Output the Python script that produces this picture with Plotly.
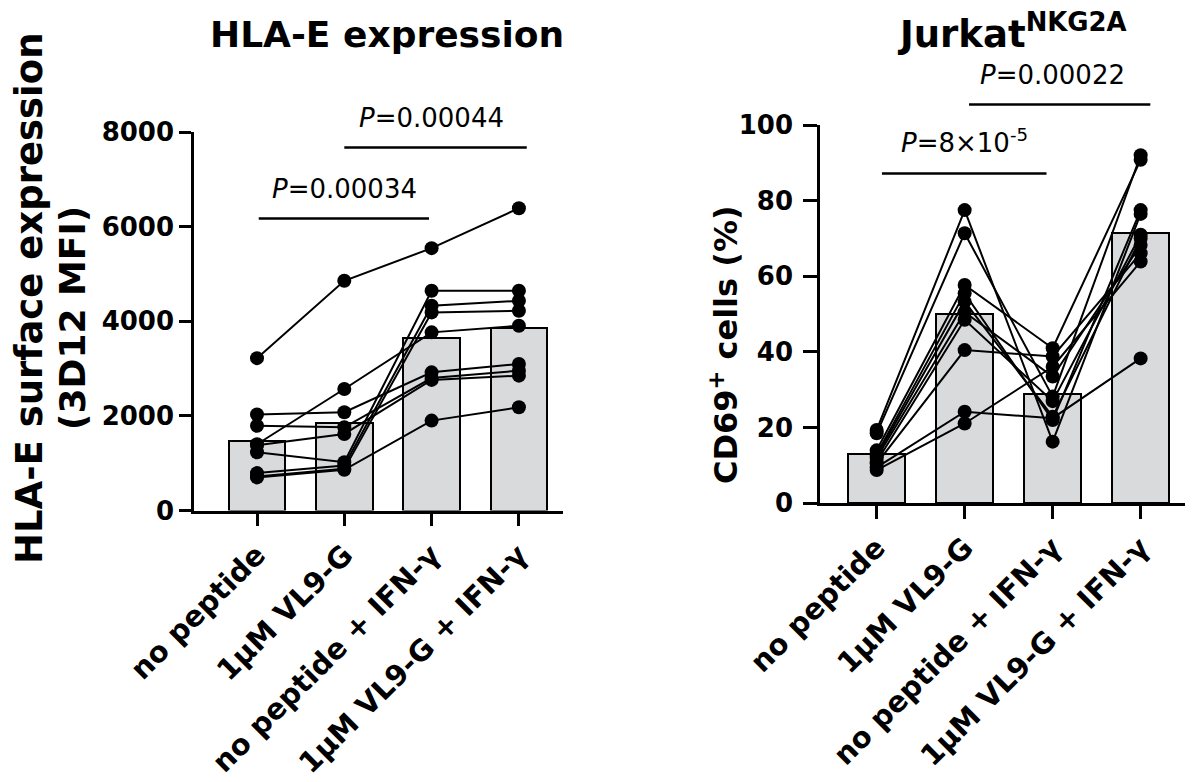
import numpy as np
import plotly.graph_objects as go

categories = ["no peptide", "1µM VL9-G", "no peptide + IFN-γ", "1µM VL9-G + IFN-γ"]

# Left panel: HLA-E surface expression (3D12 MFI); index i = same donor across conditions
hla_no_peptide = [3220, 1400, 2030, 1790, 1380, 1230, 790, 720, 700]
hla_vl9g = [4855, 2568, 2076, 1759, 1618, 1020, 950, 880, 860]
hla_ifng = [5545, 3765, 2920, 2800, 2760, 4644, 4327, 4187, 1900]
hla_vl9g_ifng = [6389, 3905, 3096, 2955, 2850, 4644, 4433, 4222, 2181]

# Right panel: Jurkat-NKG2A CD69+ cells (%)
cd69_no_peptide = [19.4, 18.5, 14.0, 13.0, 12.5, 12.0, 11.0, 10.5, 9.5, 8.8]
cd69_vl9g = [77.5, 71.4, 57.7, 55.5, 53.3, 50.5, 48.5, 40.5, 24.2, 21.1]
cd69_ifng = [16.3, 28.2, 41.0, 22.0, 22.9, 33.5, 27.0, 38.8, 22.5, 36.1]
cd69_vl9g_ifng = [76.5, 92.0, 90.8, 77.5, 70.0, 68.3, 71.0, 66.1, 38.3, 63.9]

left_y_ticks = [0, 2000, 4000, 6000, 8000]
right_y_ticks = [0, 20, 40, 60, 80, 100]

# (label, text category, bracket from, bracket to, bracket height in data units)
left_p = [("0.00034", 1, 0.02, 1.97, 6170), ("0.00044", 2, 1.0, 3.09, 7672)]
right_p = [("8×10<sup>-5</sup>", 1, 0.06, 1.93, 87.2), ("0.00022", 2, 1.05, 3.11, 105.4)]

FONT = "DejaVu Sans"
PFONT = "DejaVu Sans"
BAR_FILL = "rgb(217,218,220)"

W, H = 1200, 782
OFF = 8  # page body margin
fig = go.Figure()

panels = [
    ("x", "y", [hla_no_peptide, hla_vl9g, hla_ifng, hla_vl9g_ifng]),
    ("x2", "y2", [cd69_no_peptide, cd69_vl9g, cd69_ifng, cd69_vl9g_ifng]),
]

xpos = list(range(len(categories)))
for xa, ya, groups in panels:
    means = [float(np.mean(g)) for g in groups]
    fig.add_trace(go.Bar(
        x=xpos, y=means, xaxis=xa, yaxis=ya, width=0.65,
        marker=dict(color=BAR_FILL, line=dict(color="black", width=2)),
        showlegend=False, hoverinfo="skip"))
    n = len(groups[0])
    for i in range(n):
        fig.add_trace(go.Scatter(
            x=xpos, y=[g[i] for g in groups], xaxis=xa, yaxis=ya,
            mode="lines+markers",
            line=dict(color="black", width=2),
            marker=dict(color="black", size=14),
            showlegend=False, cliponaxis=False))

def px_to_paper_x(px):
    return (px - OFF) / W

def px_to_paper_y(py):
    return 1 - (py - OFF) / H

axis_common = dict(
    showline=True, linewidth=2.5, linecolor="black",
    ticks="outside", tickwidth=2.5, tickcolor="black",
    showgrid=False, zeroline=False, automargin=False,
)
xtickfont = dict(family=FONT, size=29, color="black", weight="bold")
ytickfont = dict(family=FONT, size=26, color="black", weight="bold")

fig.update_layout(
    width=W, height=H,
    margin=dict(l=0, r=0, t=0, b=0),
    paper_bgcolor="white", plot_bgcolor="white",
    bargap=0,
    xaxis=dict(domain=[px_to_paper_x(194), px_to_paper_x(563)], range=[-0.7216, 3.505],
               tickvals=xpos, ticktext=categories, tickangle=-45, tickfont=xtickfont,
               ticklen=13, anchor="y", **axis_common),
    yaxis=dict(domain=[px_to_paper_y(510.5), px_to_paper_y(132)], range=[0, 8000],
               tickvals=left_y_ticks, tickfont=ytickfont, ticklen=12, ticklabelstandoff=0,
               anchor="x", **axis_common),
    xaxis2=dict(domain=[px_to_paper_x(820), px_to_paper_x(1185)], range=[-0.644, 3.504],
                tickvals=xpos, ticktext=categories, tickangle=-45, tickfont=xtickfont,
                ticklen=13, anchor="y2", **axis_common),
    yaxis2=dict(domain=[px_to_paper_y(503.3), px_to_paper_y(125)], range=[0, 100],
                tickvals=right_y_ticks, tickfont=ytickfont, ticklen=14, ticklabelstandoff=5,
                anchor="x2", **axis_common),
)

shapes = []
annotations = []
for (xa, ya, pl, ymax) in [("x", "y", left_p, 8000), ("x2", "y2", right_p, 100)]:
    for txt, cx, c0, c1, yv in pl:
        shapes.append(dict(type="line", xref=xa, yref=ya + " domain",
                           x0=c0, x1=c1, y0=yv / ymax, y1=yv / ymax,
                           line=dict(color="black", width=2.5)))
        annotations.append(dict(text="<i>P</i>=" + txt, xref=xa, yref=ya + " domain",
                                x=cx, y=yv / ymax, yanchor="bottom",
                                xanchor="center", yshift=13, showarrow=False,
                                font=dict(family=PFONT, size=26, color="black")))

# Panel titles
annotations.append(dict(text="HLA-E expression", xref="paper", yref="paper",
                        x=px_to_paper_x(387), y=px_to_paper_y(34), xanchor="center",
                        yanchor="middle", showarrow=False,
                        font=dict(family=FONT, size=36, color="black", weight="bold")))
annotations.append(dict(text="Jurkat<sup>NKG2A</sup>", xref="paper", yref="paper",
                        x=px_to_paper_x(1012), y=px_to_paper_y(32), xanchor="center",
                        yanchor="middle", showarrow=False,
                        font=dict(family=FONT, size=37, color="black", weight="bold")))
# Y-axis titles
annotations.append(dict(text="HLA-E surface expression", xref="paper", yref="paper",
                        x=px_to_paper_x(29), y=px_to_paper_y(298), xanchor="center",
                        yanchor="middle", textangle=-90, showarrow=False,
                        font=dict(family=FONT, size=37, color="black", weight="bold")))
annotations.append(dict(text="(3D12 MFI)", xref="paper", yref="paper",
                        x=px_to_paper_x(72), y=px_to_paper_y(318), xanchor="center",
                        yanchor="middle", textangle=-90, showarrow=False,
                        font=dict(family=FONT, size=36, color="black", weight="bold")))
annotations.append(dict(text="CD69<sup>+</sup> cells (%)", xref="paper", yref="paper",
                        x=px_to_paper_x(724), y=px_to_paper_y(345), xanchor="center",
                        yanchor="middle", textangle=-90, showarrow=False,
                        font=dict(family=FONT, size=32, color="black", weight="bold")))

fig.update_layout(shapes=shapes, annotations=annotations)
fig.write_html("out.html")
